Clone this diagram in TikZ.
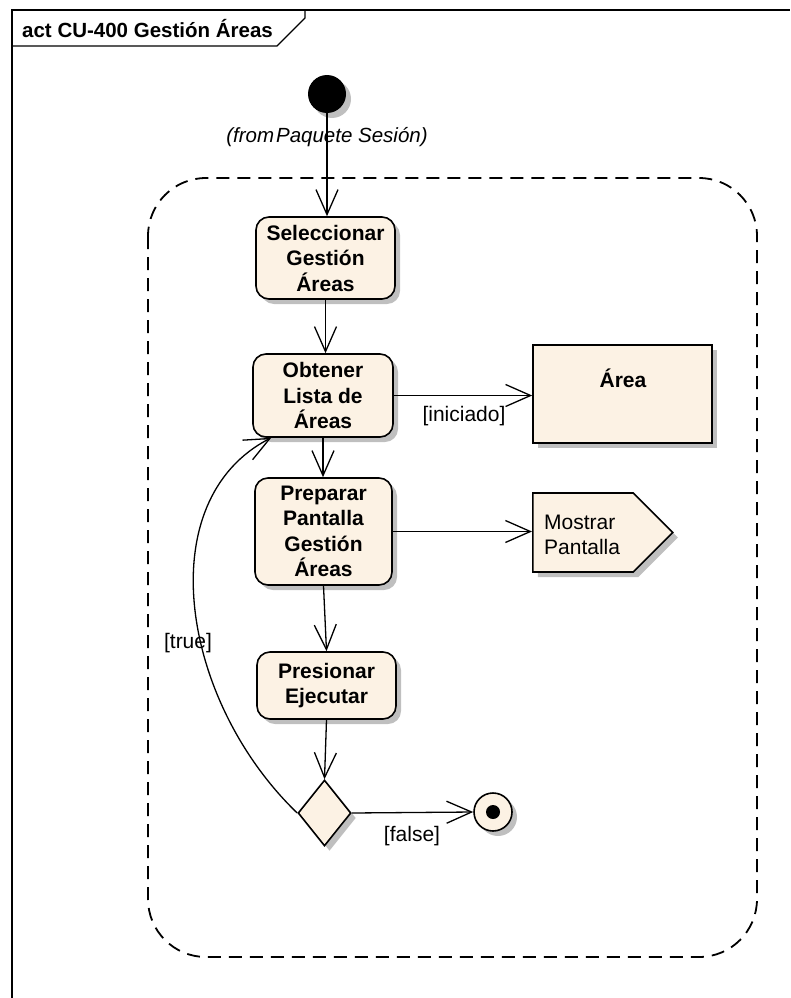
\documentclass[tikz,border=0pt]{standalone}
\usepackage{fontspec}
\setmainfont{Liberation Sans}
\usetikzlibrary{arrows.meta,shapes.geometric,shapes.symbols,shadows,calc}
\definecolor{umlfill}{RGB}{252,242,228}
\begin{document}
\begin{tikzpicture}[x=1pt,y=-1pt,
  txt/.style={font=\fontsize{21}{25}\selectfont, inner sep=0pt},
  btxt/.style={font=\bfseries\fontsize{21}{25}\selectfont, inner sep=0pt},
  shad/.style={drop shadow={shadow xshift=5pt, shadow yshift=-5pt, fill=black!25, opacity=1}},
  act/.style={draw, line width=1.6pt, fill=umlfill, rounded corners=13pt, align=center,
    inner sep=0pt, font=\bfseries\fontsize{21}{25.5}\selectfont, shad},
  flow/.style={line width=1.3pt, -{Straight Barb[length=25pt,width=22pt,line width=1.3pt]}}]
\useasboundingbox (0,0) rectangle (790,998);
% frame
\draw[line width=2pt] (12,998) -- (12,10) -- (790,10);
\draw[line width=1.3pt] (12,46) -- (277,46) -- (305,18) -- (305,10);
\node[inner sep=0pt, font=\bfseries\fontsize{20.5}{25}\selectfont, anchor=west] (title) at (22,29) {act CU-400 Gestión Áreas};
% region
\draw[line width=1.8pt, dash pattern=on 13pt off 8pt, rounded corners=58pt] (148,178) rectangle (757,957);
% nodes
\node[circle, fill=black, minimum size=38pt, inner sep=0pt, shad] (init) at (327,94) {};
\node[txt, font=\itshape\fontsize{20.5}{25}\selectfont] (from) at (327,137) {(from\hspace{2pt}Paquete Sesión)};
\node[act, minimum width=139pt, minimum height=82pt] (sel) at (325.5,258) {Seleccionar\\Gestión\\Áreas};
\node[act, minimum width=140pt, minimum height=83pt] (obt) at (323,395.5) {Obtener\\Lista de\\Áreas};
\node[act, minimum width=137pt, minimum height=107pt] (prep) at (323.5,531.5) {Preparar\\Pantalla\\Gestión\\Áreas};
\node[act, minimum width=139pt, minimum height=67pt] (pres) at (326.5,685.5) {Presionar\\Ejecutar};
\node[diamond, draw, line width=1.6pt, fill=umlfill, minimum width=53pt, minimum height=66pt, inner sep=0pt, shad] (dec) at (324.5,813) {};
\node[circle, draw, line width=1.6pt, fill=umlfill, minimum size=38pt, inner sep=0pt, shad] (fin) at (493,812) {};
\node[circle, fill=black, minimum size=14pt, inner sep=0pt] (findot) at (fin) {};
\node[draw, line width=1.6pt, fill=umlfill, minimum width=179pt, minimum height=98pt, inner sep=0pt, shad] (area) at (622.5,394) {};
\node[btxt] (areat) at (623,378) {Área};
\node[signal, signal to=east, signal from=nowhere, signal pointer angle=90, draw, line width=1.6pt, fill=umlfill,
  minimum width=140pt, minimum height=79pt, inner sep=0pt, shad, anchor=west] (mos) at (532,532.5) {};
\node[txt, anchor=west, align=left] (most) at (544,535) {Mostrar\\Pantalla};
% connectors
\draw[flow] (init.south) -- (init.south |- sel.north);
\draw[flow] (sel.south) -- (sel.south |- obt.north);
\draw[flow] (obt.east) -- (obt.east -| area.west);
\draw[flow] (obt.south) -- (obt.south |- prep.north);
\draw[flow] (prep.east) -- (prep.east -| mos.west);
\draw[flow] (prep.south) -- (pres.north);
\draw[flow] (pres.south) -- (dec.north);
\draw[flow] (dec.east) -- (fin.west);
\coordinate (back) at ($(obt.south west)+(19,0)$);
\draw[flow] (dec.west) .. controls (180,700) and (150,500) .. (back);
% labels
\node[txt] (lini) at (464,416) {[iniciado]};
\node[txt] (ltrue) at (188,643) {[true]};
\node[txt] (lfalse) at (412,836) {[false]};
\end{tikzpicture}
\end{document}
